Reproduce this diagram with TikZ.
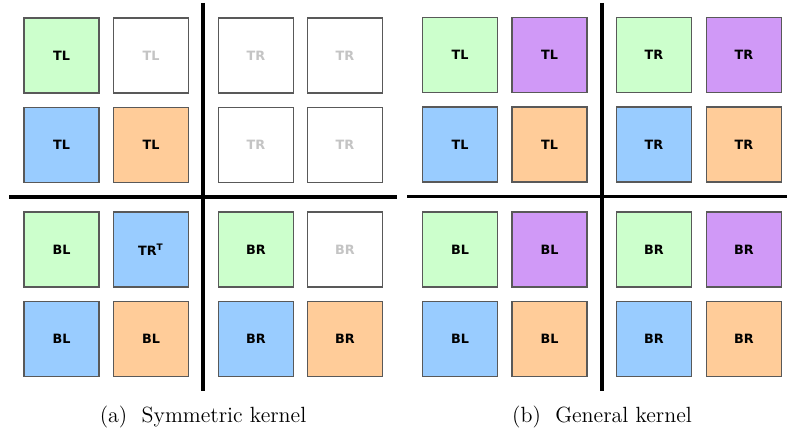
\documentclass[tikz,border=0pt]{standalone}
\usepackage{fontspec}
\newfontfamily\cellfont{DejaVu Sans}
\usepackage{tikz}

\definecolor{cellgreen}{HTML}{CCFFCC}
\definecolor{cellblue}{HTML}{99CCFF}
\definecolor{cellorange}{HTML}{FFCC99}
\definecolor{cellpurple}{HTML}{D099F7}
\definecolor{cellgrey}{HTML}{C4C4C4}

\tikzset{
  cell/.style={draw=black!65, line width=.6pt, minimum size=37.5pt, inner sep=0pt,
    font=\cellfont\bfseries\fontsize{6.4}{7}\selectfont},
  empty/.style={cell, fill=white, text=cellgrey},
  divider/.style={line width=1.6pt},
  caption/.style={font=\fontsize{11}{13}\selectfont}
}

\begin{document}
\begin{tikzpicture}[x=.5pt, y=-.5pt]
    \useasboundingbox (0, 0) rectangle (787, 432);

    % (a) symmetric kernel
    \node[cell, fill=cellgreen] (a11) at (61.5, 55.5) {TL};
    \node[empty] (a12) at (151, 55.5) {TL};
    \node[empty] (a13) at (256, 55.5) {TR};
    \node[empty] (a14) at (345, 55.5) {TR};
    \node[cell, fill=cellblue] (a21) at (61.5, 145) {TL};
    \node[cell, fill=cellorange] (a22) at (151, 145) {TL};
    \node[empty] (a23) at (256, 145) {TR};
    \node[empty] (a24) at (345, 145) {TR};
    \node[cell, fill=cellgreen] (a31) at (61.5, 249.5) {BL};
    \node[cell, fill=cellblue] (a32) at (151, 249.5) {TR\textsuperscript{T}};
    \node[cell, fill=cellgreen] (a33) at (256, 249.5) {BR};
    \node[empty] (a34) at (345, 249.5) {BR};
    \node[cell, fill=cellblue] (a41) at (61.5, 339) {BL};
    \node[cell, fill=cellorange] (a42) at (151, 339) {BL};
    \node[cell, fill=cellblue] (a43) at (256, 339) {BR};
    \node[cell, fill=cellorange] (a44) at (345, 339) {BR};

    \draw[divider] (203, 3) -- (203, 391);
    \draw[divider] (9, 197) -- (397, 197);
    \node[caption] (capA) at (203, 417) {(a)~~Symmetric kernel};

    % (b) general kernel
    \node[cell, fill=cellgreen] (b11) at (460, 55) {TL};
    \node[cell, fill=cellpurple] (b12) at (549.5, 55) {TL};
    \node[cell, fill=cellgreen] (b13) at (654, 55) {TR};
    \node[cell, fill=cellpurple] (b14) at (744, 55) {TR};
    \node[cell, fill=cellblue] (b21) at (460, 144.5) {TL};
    \node[cell, fill=cellorange] (b22) at (549.5, 144.5) {TL};
    \node[cell, fill=cellblue] (b23) at (654, 144.5) {TR};
    \node[cell, fill=cellorange] (b24) at (744, 144.5) {TR};
    \node[cell, fill=cellgreen] (b31) at (460, 249.5) {BL};
    \node[cell, fill=cellpurple] (b32) at (549.5, 249.5) {BL};
    \node[cell, fill=cellgreen] (b33) at (654, 249.5) {BR};
    \node[cell, fill=cellpurple] (b34) at (744, 249.5) {BR};
    \node[cell, fill=cellblue] (b41) at (460, 339) {BL};
    \node[cell, fill=cellorange] (b42) at (549.5, 339) {BL};
    \node[cell, fill=cellblue] (b43) at (654, 339) {BR};
    \node[cell, fill=cellorange] (b44) at (744, 339) {BR};

    \draw[divider] (602, 3) -- (602, 391);
    \draw[divider] (407, 196.5) -- (787, 196.5);
    \node[caption] (capB) at (602, 417) {(b)~~General kernel};
\end{tikzpicture}
\end{document}
